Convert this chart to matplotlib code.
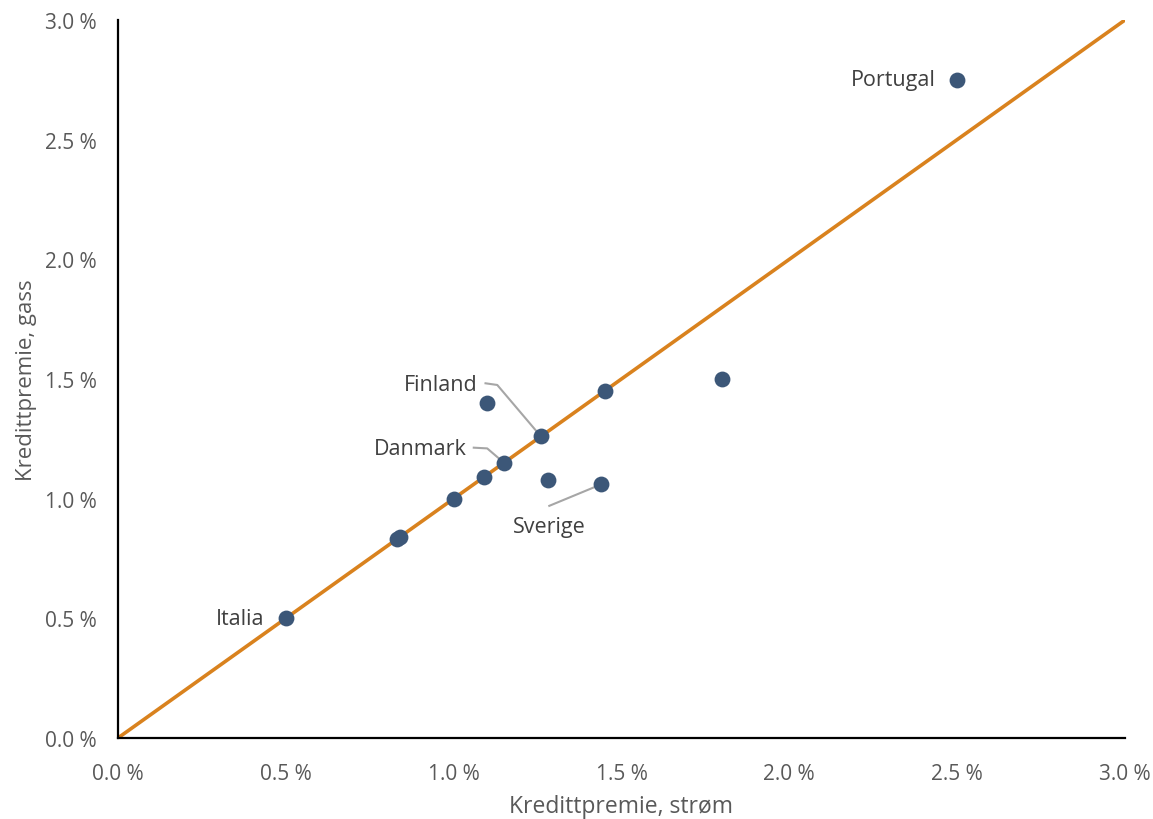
import numpy as np
import matplotlib.pyplot as plt
from matplotlib.ticker import FuncFormatter

plt.rcParams['font.family'] = ['Open Sans', 'DejaVu Sans']

# credit premium, electricity (x) and gas (y), in percent
strom = [2.50, 1.80, 1.45, 1.10, 1.26, 1.15, 1.09, 1.28, 1.44, 1.00, 0.83, 0.84, 0.50]
gass = [2.75, 1.50, 1.45, 1.40, 1.26, 1.15, 1.09, 1.08, 1.06, 1.00, 0.83, 0.84, 0.50]

# labelled countries and their point index
labels = ["Portugal", "Finland", "Danmark", "Sverige", "Italia"]
label_idx = [0, 4, 5, 8, 12]

ticks = [0.0, 0.5, 1.0, 1.5, 2.0, 2.5, 3.0]

grey = "#595959"
dot = "#3C5778"
orange = "#D9821E"

fig = plt.figure(figsize=(11.53, 8.2), dpi=100)
ax = fig.add_axes([0.1023, 0.0988, 0.8734, 0.8756])

ax.plot([0, 3], [0, 3], color=orange, lw=2.6, zorder=2, solid_capstyle='butt')
ax.scatter(strom, gass, s=130, color=dot, zorder=3, linewidths=0)

ax.set_xlim(0, 3)
ax.set_ylim(0, 3)
ax.set_xticks(ticks)
ax.set_yticks(ticks)
fmt = FuncFormatter(lambda v, p: f"{v:.1f} %")
ax.xaxis.set_major_formatter(fmt)
ax.yaxis.set_major_formatter(fmt)
ax.tick_params(length=0, labelsize=15, colors=grey)
ax.tick_params(axis='x', pad=18)
ax.tick_params(axis='y', pad=15)

for s in ["top", "right"]:
    ax.spines[s].set_visible(False)
for s in ["left", "bottom"]:
    ax.spines[s].set_linewidth(1.6)
    ax.spines[s].set_color("black")

ax.set_xlabel("Kredittpremie, strøm", fontsize=16.5, color=grey, labelpad=7)
ax.set_ylabel("Kredittpremie, gass", fontsize=16, color=grey, labelpad=6)

# labels
tkw = dict(fontsize=15.5, color="#404040")
lkw = dict(color="#A6A6A6", lw=1.5)

i = label_idx[0]
ax.text(strom[i] - 0.065, gass[i], labels[0], ha="right", va="center", **tkw)
i = label_idx[4]
ax.text(strom[i] - 0.065, gass[i], labels[4], ha="right", va="center", **tkw)

# Finland, with leader line
i = label_idx[1]
ax.text(1.07, 1.475, labels[1], ha="right", va="center", **tkw)
ax.plot([1.095, 1.13, strom[i]], [1.482, 1.475, gass[i]], **lkw)

# Danmark
i = label_idx[2]
ax.text(1.04, 1.21, labels[2], ha="right", va="center", **tkw)
ax.plot([1.06, 1.10, strom[i]], [1.213, 1.21, gass[i]], **lkw)

# Sverige
i = label_idx[3]
ax.text(1.285, 0.885, labels[3], ha="center", va="center", **tkw)
ax.plot([1.285, strom[i]], [0.97, gass[i]], **lkw)

fig.savefig("out.png", dpi=100)
